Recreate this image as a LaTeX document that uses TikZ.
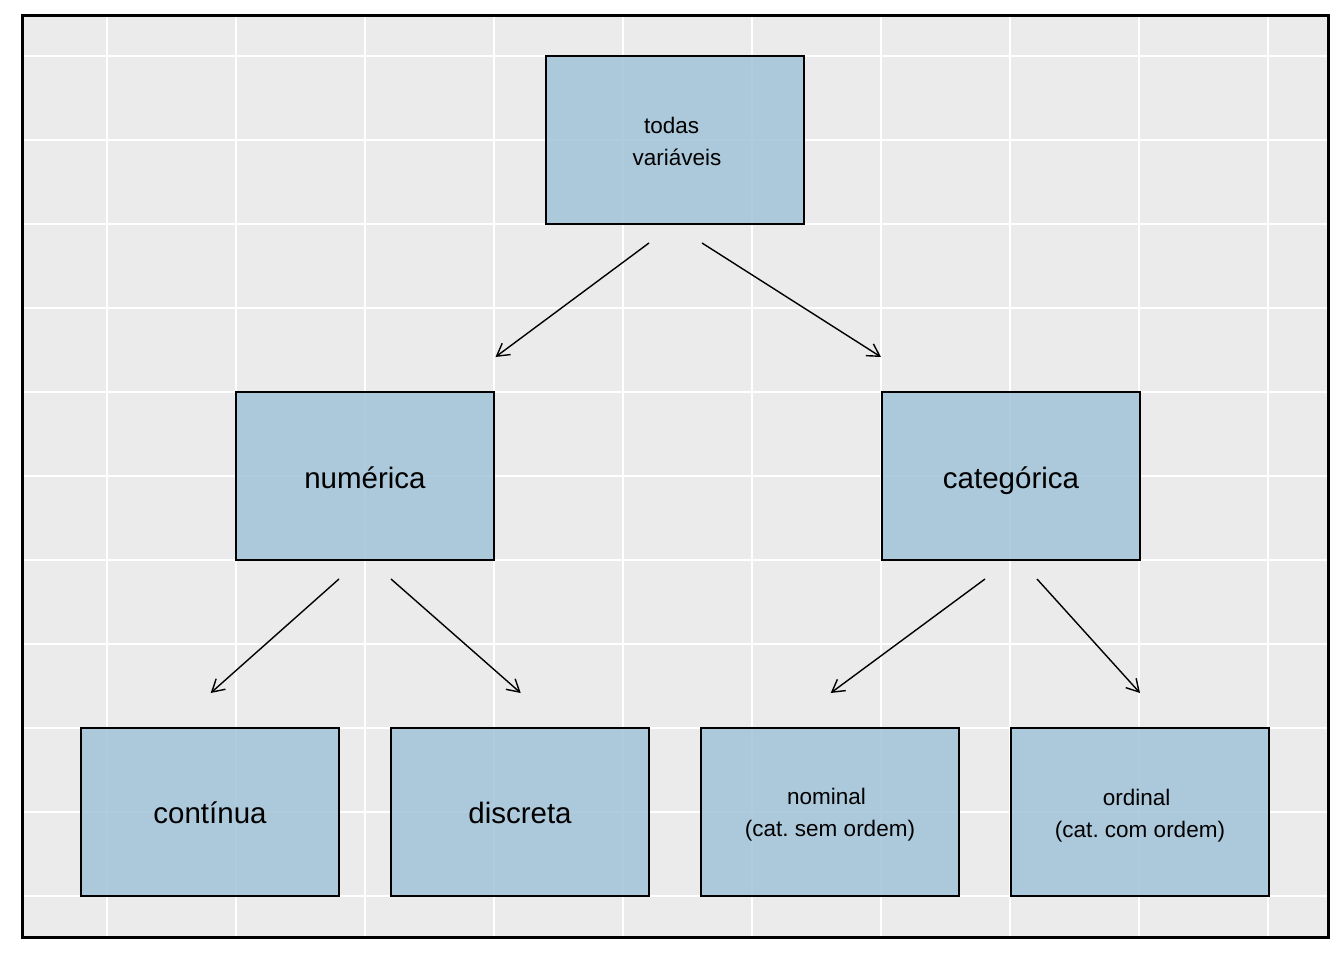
\documentclass[tikz,border=0pt]{standalone}
\usepackage{fontspec}
\setmainfont{Liberation Sans}
\frenchspacing
\usetikzlibrary{arrows.meta,calc}
\definecolor{panelgrey}{RGB}{235,235,235}
\definecolor{boxblue}{RGB}{161,194,217}
\tikzset{
  box/.style={draw=black, line width=2pt, fill=boxblue, fill opacity=0.85, draw opacity=1,
    rectangle, minimum width=258pt, minimum height=168pt, inner sep=0pt},
  bigtxt/.style={anchor=base, inner sep=0pt, font=\fontsize{29.5}{35}\selectfont},
  smalltxt/.style={anchor=base, inner sep=0pt, font=\fontsize{22.5}{27}\selectfont},
  conn/.style={line width=1.4pt, -{Straight Barb[angle=60:14pt]}},
  majorgrid/.style={white, line width=2pt},
  minorgrid/.style={white, line width=1.1pt}
}
\begin{document}
\begin{tikzpicture}[x=1pt,y=-1pt]
\useasboundingbox (0,0) rectangle (1344,960);
% panel
\fill[panelgrey] (22.5,15.5) rectangle (1328,937.7);
\foreach \gx in {107,365,623,881,1139} \draw[minorgrid] (\gx,15.5) -- (\gx,937.7);
\foreach \gy in {140,308,476,644,812} \draw[minorgrid] (22.5,\gy) -- (1328,\gy);
\foreach \gx in {236,494,752,1010,1268} \draw[majorgrid] (\gx,15.5) -- (\gx,937.7);
\foreach \gy in {56,224,392,560,728,896} \draw[majorgrid] (22.5,\gy) -- (1328,\gy);
% boxes
\node[box] (top) at (675,140) {};
\node[box] (num) at (365,476) {};
\node[box] (cat) at (1011,476) {};
\node[box] (cont) at (210,812) {};
\node[box] (disc) at (520,812) {};
\node[box] (nom) at (830,812) {};
\node[box] (ord) at (1140,812) {};
% labels
\node[smalltxt] (topA) at ($(top)+(-3.3,-6)$) {todas};
\node[smalltxt] (topB) at ($(top)+(2,26)$) {variáveis};
\node[bigtxt] (numL) at ($(num)+(0,12)$) {numérica};
\node[bigtxt] (catL) at ($(cat)+(0,12)$) {categórica};
\node[bigtxt] (contL) at ($(cont)+(0,11.5)$) {contínua};
\node[bigtxt] (discL) at ($(disc)+(0,11.5)$) {discreta};
\node[smalltxt] (nomA) at ($(nom)+(-3.4,-8)$) {nominal};
\node[smalltxt] (nomB) at ($(nom)+(0,24)$) {(cat. sem ordem)};
\node[smalltxt] (ordA) at ($(ord)+(-3.3,-7)$) {ordinal};
\node[smalltxt] (ordB) at ($(ord)+(0,25)$) {(cat. com ordem)};
% connectors
\draw[conn] ($(top.south)+(-26,18)$) -- ($(num.north east)+(0.5,-34)$);
\draw[conn] ($(top.south)+(27,18)$) -- ($(cat.north west)+(0,-34)$);
\draw[conn] ($(num.south)+(-26,18)$) -- ($(cont.north)+(0.7,-34)$);
\draw[conn] ($(num.south)+(26,18)$) -- ($(disc.north)+(0.7,-34)$);
\draw[conn] ($(cat.south)+(-26,18)$) -- ($(nom.north)+(0.7,-34)$);
\draw[conn] ($(cat.south)+(26,18)$) -- ($(ord.north)+(0,-34)$);
% panel border
\draw[black, line width=3pt] (22.5,15.5) rectangle (1328,937.7);
\end{tikzpicture}
\end{document}
